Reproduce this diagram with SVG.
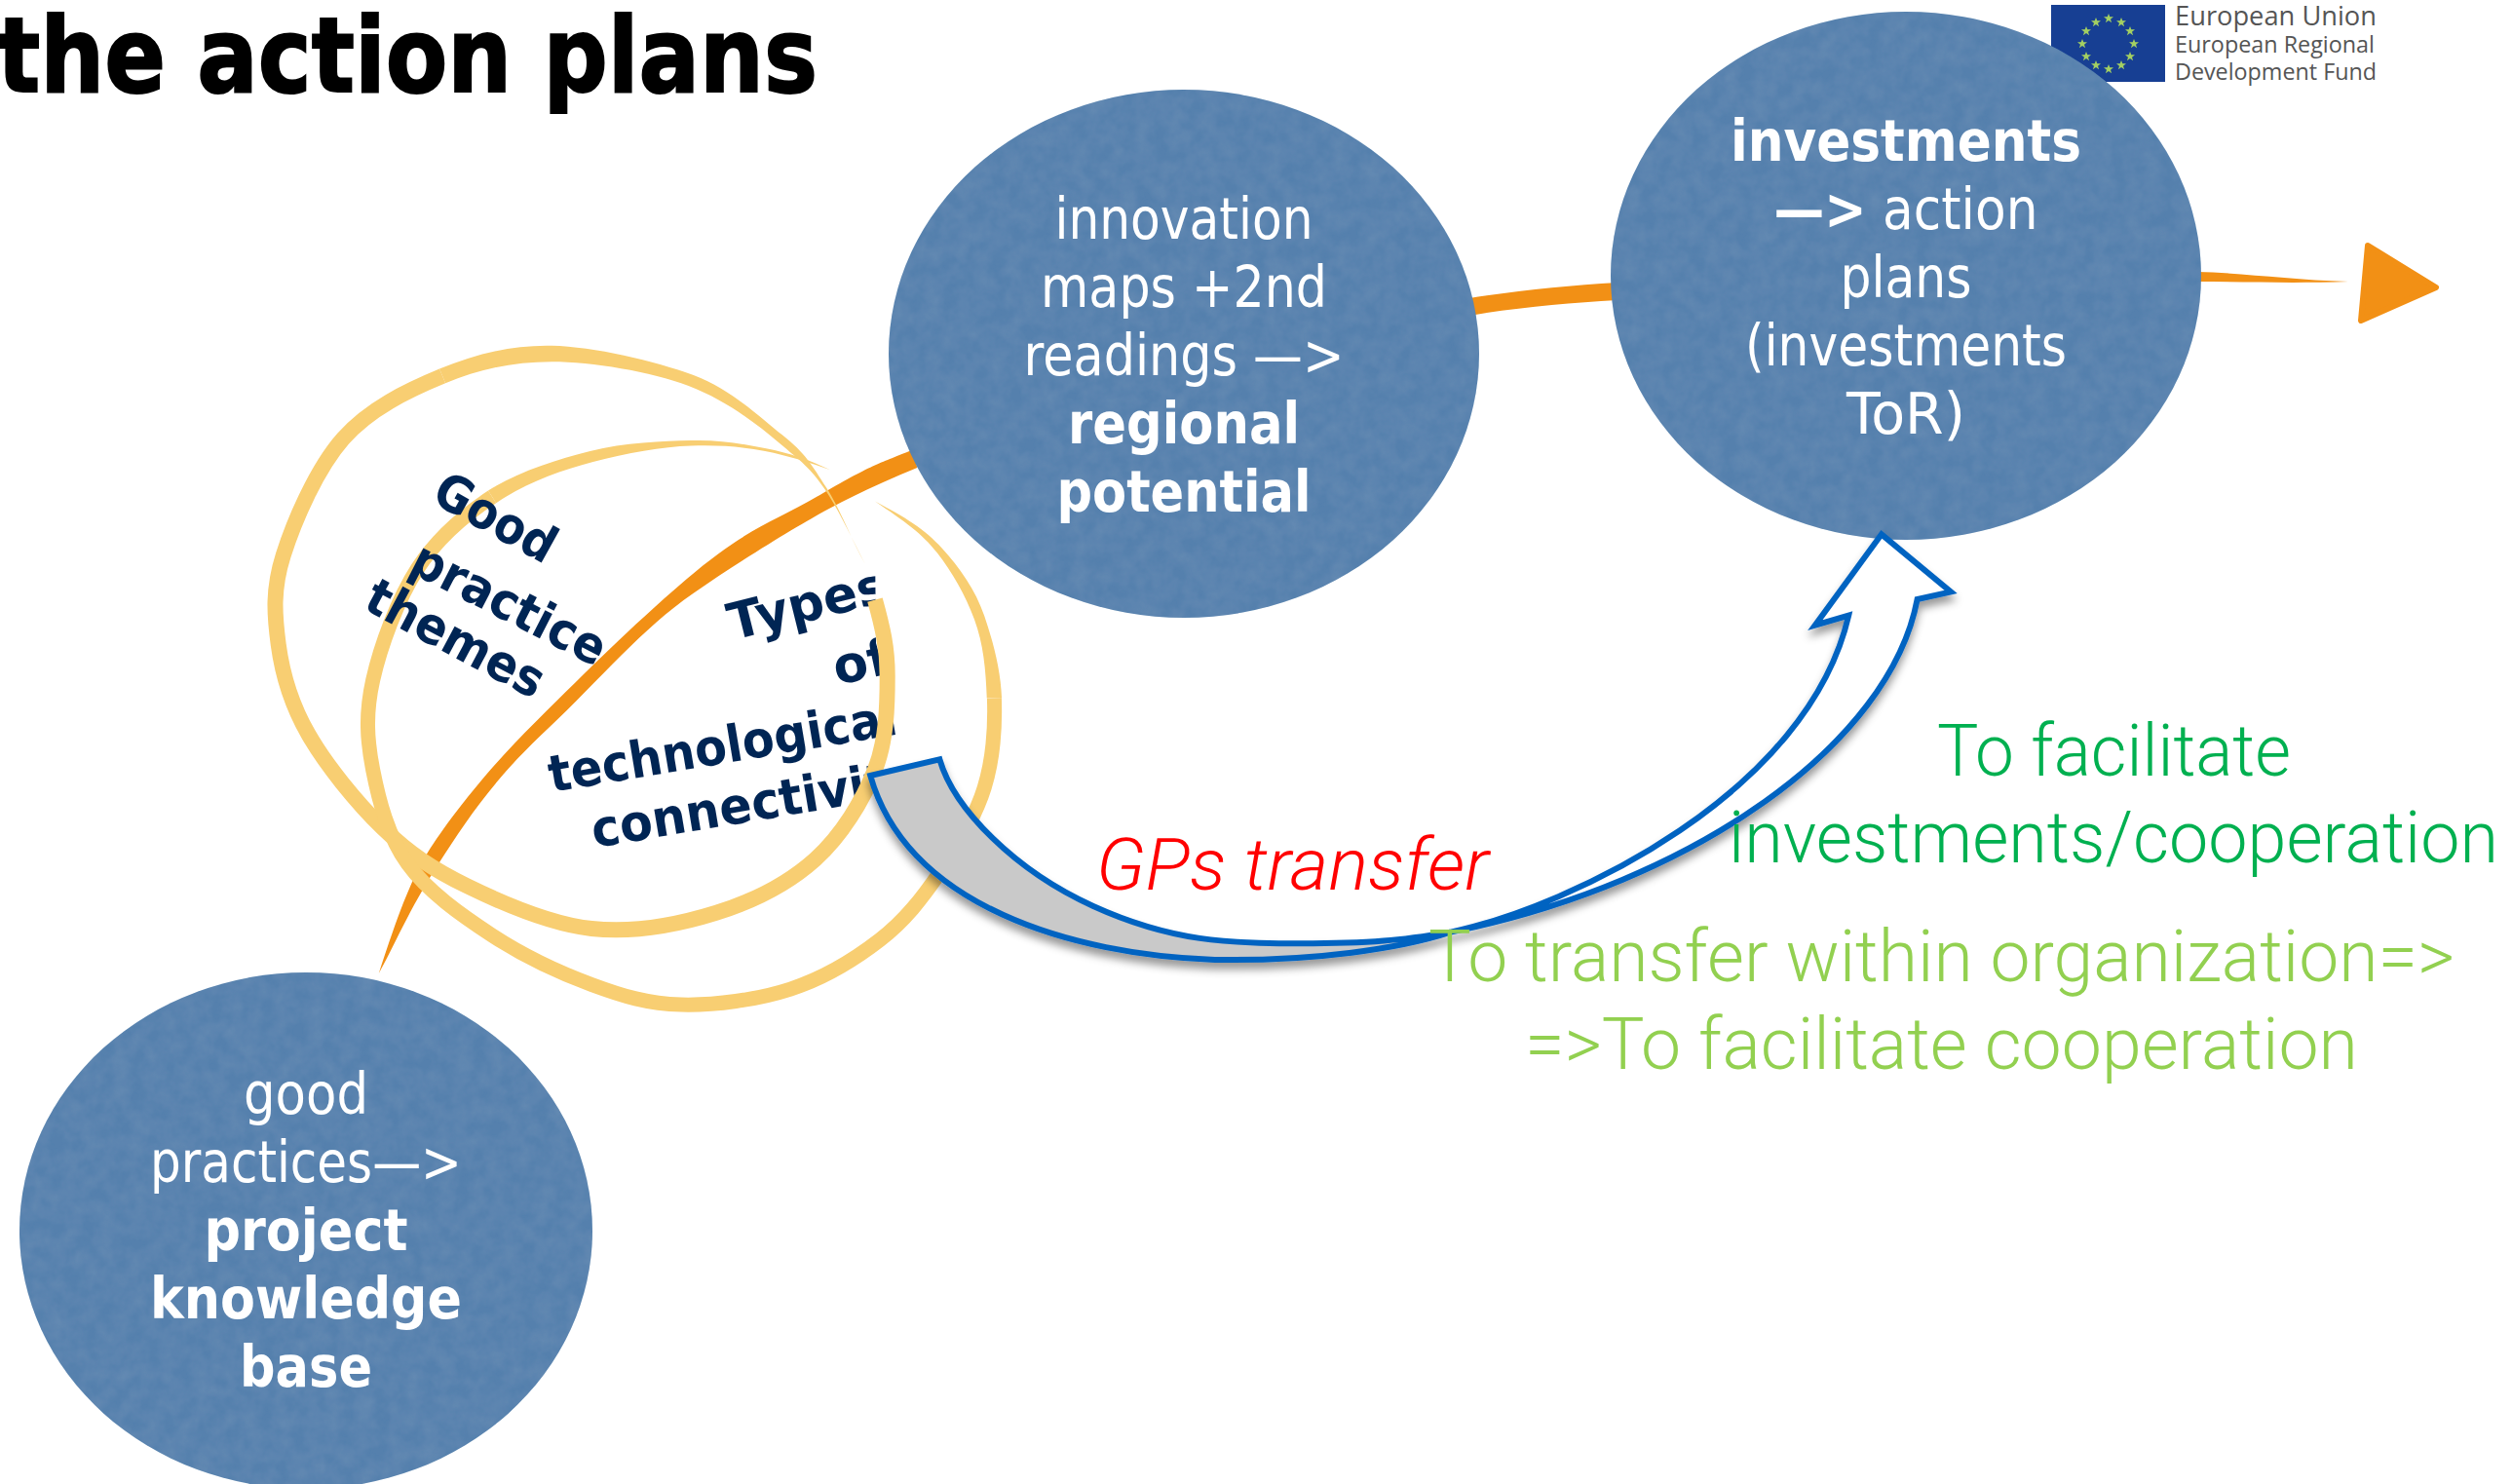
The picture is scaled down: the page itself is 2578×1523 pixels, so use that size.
<svg xmlns="http://www.w3.org/2000/svg" xmlns:xlink="http://www.w3.org/1999/xlink" width="2578" height="1523" viewBox="0 0 2578 1523">
<style>
.node{fill:#5480AD;filter:url(#paper)}
.nt{font-family:"DejaVu Sans","Open Sans",sans-serif;font-size:58px;fill:#fff;text-anchor:middle}
.b{font-weight:700}
.nav{font-family:"DejaVu Sans","Noto Sans",sans-serif;font-weight:700;font-size:52px;fill:#002554}
.ring{fill:none;stroke:#F8CE72;stroke-linecap:butt;vector-effect:non-scaling-stroke}
.ringf{fill:#F8CE72}
.lab{font-family:Roboto,"Liberation Sans",sans-serif;font-weight:300;font-size:74px}
.eu{font-family:"Open Sans","Noto Sans",sans-serif;fill:#555;font-size:25px}
.orange{fill:#F29015}
.blue{stroke:#0563C1;stroke-width:6;stroke-linejoin:miter;vector-effect:non-scaling-stroke}
</style>
<defs>
<filter id="paper" x="0" y="0" width="1" height="1">
<feTurbulence type="fractalNoise" baseFrequency="0.06" numOctaves="3" seed="4" result="n"/>
<feColorMatrix in="n" type="matrix" values="0 0 0 0 0.2  0 0 0 0 0.33  0 0 0 0 0.5  0 0 0 0.5 -0.12" result="c"/>
<feComposite in="c" in2="SourceAlpha" operator="in" result="t"/>
<feMerge><feMergeNode in="SourceGraphic"/><feMergeNode in="t"/></feMerge>
</filter>
<filter id="shadow" x="-5%" y="-5%" width="110%" height="112%">
<feDropShadow dx="0" dy="7" stdDeviation="4" flood-color="#000" flood-opacity="0.4"/>
</filter>
<polygon id="star" points="0,-5 1.3,-1.7 5,-1.7 2,0.7 3.1,4.2 0,2.1 -3.1,4.2 -2,0.7 -5,-1.7 -1.3,-1.7" fill="#A3CF62"/>
<clipPath id="typesClip"><polygon points="550,560 898,560 899,660 923,744 923,772 890,795 890,900 550,900"/></clipPath>
</defs>
<rect width="2578" height="1523" fill="#fff"/>

<text id="title" x="-3" y="94" font-family="'DejaVu Sans',sans-serif" font-weight="700" font-size="107" fill="#000" stroke="#000" stroke-width="2" textLength="842" lengthAdjust="spacingAndGlyphs">the action plans</text>

<g id="eu-logo">
<rect x="2105" y="5" width="117" height="79" fill="#173F93"/>
<use xlink:href="#star" href="#star" x="2164" y="19"/><use xlink:href="#star" href="#star" x="2177" y="23"/><use xlink:href="#star" href="#star" x="2186" y="32"/><use xlink:href="#star" href="#star" x="2190" y="45"/><use xlink:href="#star" href="#star" x="2186" y="58"/><use xlink:href="#star" href="#star" x="2177" y="67"/><use xlink:href="#star" href="#star" x="2164" y="71"/><use xlink:href="#star" href="#star" x="2151" y="67"/><use xlink:href="#star" href="#star" x="2141" y="58"/><use xlink:href="#star" href="#star" x="2137" y="45"/><use xlink:href="#star" href="#star" x="2141" y="32"/><use xlink:href="#star" href="#star" x="2151" y="23"/>
<text class="eu" x="2232" y="26" style="font-size:27px" textLength="207" lengthAdjust="spacingAndGlyphs">European Union</text>
<text class="eu" x="2232" y="54" style="font-size:24px" textLength="205" lengthAdjust="spacingAndGlyphs">European Regional</text>
<text class="eu" x="2232" y="82" style="font-size:24px" textLength="207" lengthAdjust="spacingAndGlyphs">Development Fund</text>
</g>

<g id="connectors">
<g transform="translate(250,340) scale(.5102,.4592)">
<path id="orange-a-b" class="orange" d="M272,1435 C300,1340 330,1240 365,1175 S480,990 590,870 S770,670 890,555 S1060,430 1165,362 S1280,295 1345,265 L1355,305 C1290,335 1230,365 1175,398 S1010,505 905,585 S720,775 610,890 S450,1090 392,1190 S300,1380 272,1435 Z"/>
</g>
<path id="orange-b-c" class="orange" d="M1508,306 C1560,298 1610,293 1660,290 L1660,308 C1610,311 1560,315 1508,324 Z"/>
<path id="orange-c-out" class="orange" d="M2255,279 C2300,280 2350,287 2410,289 C2350,291 2300,289 2255,289 Z"/>
<path id="orange-head" class="orange" stroke="#F29015" stroke-width="6" stroke-linejoin="round" d="M2430,252 L2500,295 L2423,329 Z"/>
</g>

<g id="types-label" clip-path="url(#typesClip)">
<text class="nav" transform="translate(752,657) rotate(-14)" textLength="166" lengthAdjust="spacingAndGlyphs">Types</text>
<text class="nav" transform="translate(859,703) rotate(-12)" textLength="58" lengthAdjust="spacingAndGlyphs">of</text>
<text class="nav" transform="translate(566,813) rotate(-9.5)" textLength="362" lengthAdjust="spacingAndGlyphs">technological</text>
<text class="nav" transform="translate(610,870) rotate(-9.5)" textLength="340" lengthAdjust="spacingAndGlyphs">connectivity</text>
</g>

<g id="rings" transform="translate(250,340) scale(.5102,.4592)">
<path class="ringf" d="M1250,520 C1220,460 1200,397 1172,349 S1130,272 1084,232 S982,130 905,98 S703,34 620,32 S464,52 394,84 L406,116 C470,86 540,68 620,68 S820,90 895,122 S1030,205 1076,248 S1140,305 1168,351 S1225,465 1250,520 Z"/>
<path class="ring" stroke-width="16" d="M400,100 C330,132 253,173 200,240 S102,423 80,500 S62,633 70,700 S95,832 130,900 S227,1053 280,1110 S380,1202 450,1240 S617,1325 700,1335 S875,1326 950,1300 S1097,1233 1150,1180 S1246,1048 1270,980 S1295,833 1295,770 S1285,660 1270,600"/>
<path class="ringf" d="M1180,310 C1140,288 1097,272 1051,262 S958,242 900,244 S767,248 697,268 S552,314 492,356 L508,384 C565,340 635,312 703,292 S842,258 900,256 S1003,258 1049,268 S1140,294 1180,310 Z"/>
<path class="ring" stroke-width="15" d="M500,370 C442,412 390,462 350,530 S275,705 260,780 S248,912 260,980 S290,1128 330,1190 S438,1305 500,1350 S637,1434 700,1460 S813,1503 880,1505 S1033,1494 1100,1470 S1230,1403 1280,1360 S1365,1267 1400,1210 S1472,1085 1490,1020 S1512,883 1510,820"/>
<path class="ringf" d="M1525,820 C1523,757 1508,695 1490,636 S1440,528 1405,485 S1330,415 1270,380 C1330,425 1365,452 1395,495 S1452,590 1470,644 S1493,757 1495,820 Z"/>
</g>

<g id="good-label">
<text class="nav" transform="translate(441,514) rotate(29)" textLength="135" lengthAdjust="spacingAndGlyphs">Good</text>
<text class="nav" transform="translate(418,586) rotate(27)" textLength="217" lengthAdjust="spacingAndGlyphs">practice</text>
<text class="nav" transform="translate(371,624) rotate(28)" textLength="200" lengthAdjust="spacingAndGlyphs">themes</text>
</g>

<g id="node-a">
<ellipse class="node" cx="314" cy="1263" rx="294" ry="265"/>
<text class="nt" x="314" y="1143" textLength="128" lengthAdjust="spacingAndGlyphs">good</text>
<text class="nt" x="314" y="1213" textLength="320" lengthAdjust="spacingAndGlyphs">practices—&gt;</text>
<text class="nt b" x="314" y="1283" textLength="209" lengthAdjust="spacingAndGlyphs">project</text>
<text class="nt b" x="314" y="1353" textLength="320" lengthAdjust="spacingAndGlyphs">knowledge</text>
<text class="nt b" x="314" y="1423" textLength="136" lengthAdjust="spacingAndGlyphs">base</text>
</g>
<g id="node-b">
<ellipse class="node" cx="1215" cy="363" rx="303" ry="271"/>
<text class="nt" x="1215" y="245" textLength="265" lengthAdjust="spacingAndGlyphs">innovation</text>
<text class="nt" x="1215" y="315" textLength="294" lengthAdjust="spacingAndGlyphs">maps +2nd</text>
<text class="nt" x="1215" y="385" textLength="329" lengthAdjust="spacingAndGlyphs">readings —&gt;</text>
<text class="nt b" x="1215" y="455" textLength="238" lengthAdjust="spacingAndGlyphs">regional</text>
<text class="nt b" x="1215" y="525" textLength="261" lengthAdjust="spacingAndGlyphs">potential</text>
</g>
<g id="node-c">
<ellipse class="node" cx="1956" cy="283" rx="303" ry="271"/>
<text class="nt b" x="1956" y="165" textLength="360" lengthAdjust="spacingAndGlyphs">investments</text>
<text class="nt" x="1956" y="235" textLength="271" lengthAdjust="spacingAndGlyphs"><tspan class="b">—&gt;</tspan> action</text>
<text class="nt" x="1956" y="305" textLength="135" lengthAdjust="spacingAndGlyphs">plans</text>
<text class="nt" x="1956" y="375" textLength="330" lengthAdjust="spacingAndGlyphs">(investments</text>
<text class="nt" x="1956" y="445" textLength="122" lengthAdjust="spacingAndGlyphs">ToR)</text>
</g>

<g id="transfer-arrow" filter="url(#shadow)">
<g transform="translate(880,530) scale(.7334,.3333)">
<path class="blue" fill="#C9C9C9" d="M18,798 L115,748 C135,900 220,1090 330,1200 S520,1315 620,1315 S760,1305 830,1280 C760,1330 640,1370 500,1365 C300,1350 70,1200 18,798 Z"/>
<path class="blue" fill="#fff" d="M830,1280 C1000,1200 1330,850 1387,305 L1340,335 L1433,55 L1530,232 L1483,255 C1445,700 1170,1130 830,1280 Z"/>
</g>
</g>

<text id="gps-label" class="lab" x="1125" y="913" fill="#FF0000" font-style="italic" textLength="403" lengthAdjust="spacingAndGlyphs">GPs transfer</text>
<g id="labels">
<text class="lab" x="1988" y="796" fill="#00B050" textLength="363" lengthAdjust="spacingAndGlyphs">To facilitate</text>
<text class="lab" x="1774" y="885" fill="#00B050" textLength="790" lengthAdjust="spacingAndGlyphs">investments/cooperation</text>
<text class="lab" x="1466" y="1007" fill="#92D050" textLength="1053" lengthAdjust="spacingAndGlyphs">To transfer within organization=&gt;</text>
<text class="lab" x="1565" y="1097" fill="#92D050" textLength="855" lengthAdjust="spacingAndGlyphs">=&gt;To facilitate cooperation</text>
</g>
</svg>
